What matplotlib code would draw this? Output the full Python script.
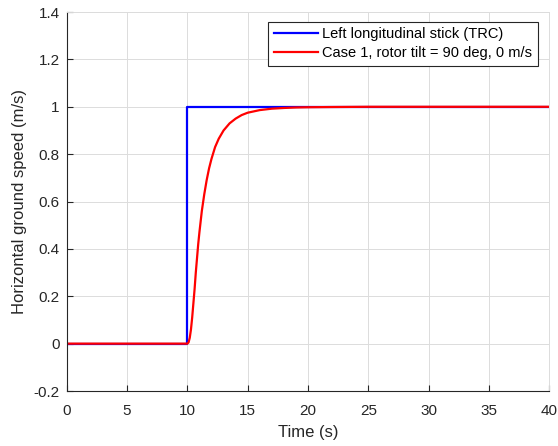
import matplotlib.pyplot as plt

plt.rcParams['font.family'] = ['Liberation Sans', 'DejaVu Sans']

# stick input (step at 10 s)
t_stick = [0, 10, 10, 40]
v_stick = [0, 0, 1, 1]

# aircraft response, case 1
t_case1 = [0, 10.0, 10.1, 10.2, 10.3, 10.4, 10.5, 10.6, 10.7, 10.8, 10.9, 11.0,
           11.2, 11.4, 11.6, 11.8, 12.0, 12.3, 12.6, 13.0, 13.5, 14.0, 14.5,
           15.0, 16.0, 17.0, 18.0, 19.0, 20, 22, 25, 30, 40]
v_case1 = [0, 0, 0.005, 0.025, 0.06, 0.11, 0.17, 0.23, 0.30, 0.36, 0.42, 0.47,
           0.56, 0.63, 0.69, 0.74, 0.78, 0.83, 0.865, 0.90, 0.93, 0.95, 0.965,
           0.975, 0.986, 0.992, 0.995, 0.997, 0.998, 0.999, 1.0, 1.0, 1.0]

labels = ['Left longitudinal stick (TRC)', 'Case 1, rotor tilt = 90 deg, 0 m/s']

fig = plt.figure(figsize=(5.58, 4.46), dpi=100)
ax = fig.add_axes([0.1195, 0.1233, 0.865, 0.8497])

ax.plot(t_stick, v_stick, color='#0000ff', lw=1.6, label=labels[0])
ax.plot(t_case1, v_case1, color='#ff0000', lw=1.6, label=labels[1])

ax.set_xlim(0, 40)
ax.set_ylim(-0.2, 1.4)
ax.set_xticks(range(0, 41, 5))
ax.set_yticks([-0.2, 0, 0.2, 0.4, 0.6, 0.8, 1.0, 1.2, 1.4])
ax.set_yticklabels(['-0.2', '0', '0.2', '0.4', '0.6', '0.8', '1', '1.2', '1.4'])

ax.grid(True, color='#dcdcdc', lw=0.7)
ax.set_axisbelow(True)
for s in ['left', 'bottom']:
    ax.spines[s].set_color('#262626')
    ax.spines[s].set_linewidth(0.8)
for s in ['top', 'right']:
    ax.spines[s].set_color('#dcdcdc')
    ax.spines[s].set_linewidth(0.7)
ax.tick_params(direction='in', length=4, width=0.8, colors='#262626',
               labelsize=11, top=False, right=False)
ax.tick_params(axis='x', pad=9.5)
ax.tick_params(axis='y', pad=5)

ax.set_xlabel('Time (s)', fontsize=12, color='#262626', labelpad=5)
ax.set_ylabel('Horizontal ground speed (m/s)', fontsize=12, color='#262626', labelpad=5)

leg = ax.legend(loc='upper right', bbox_to_anchor=(0.976, 0.975), borderaxespad=0,
                fancybox=False, framealpha=1, edgecolor='#262626', fontsize=10.5,
                handlelength=3.0, handletextpad=0.3, borderpad=0.4, labelspacing=0.3)
leg.get_frame().set_linewidth(0.8)

fig.savefig('out.png', dpi=100)
